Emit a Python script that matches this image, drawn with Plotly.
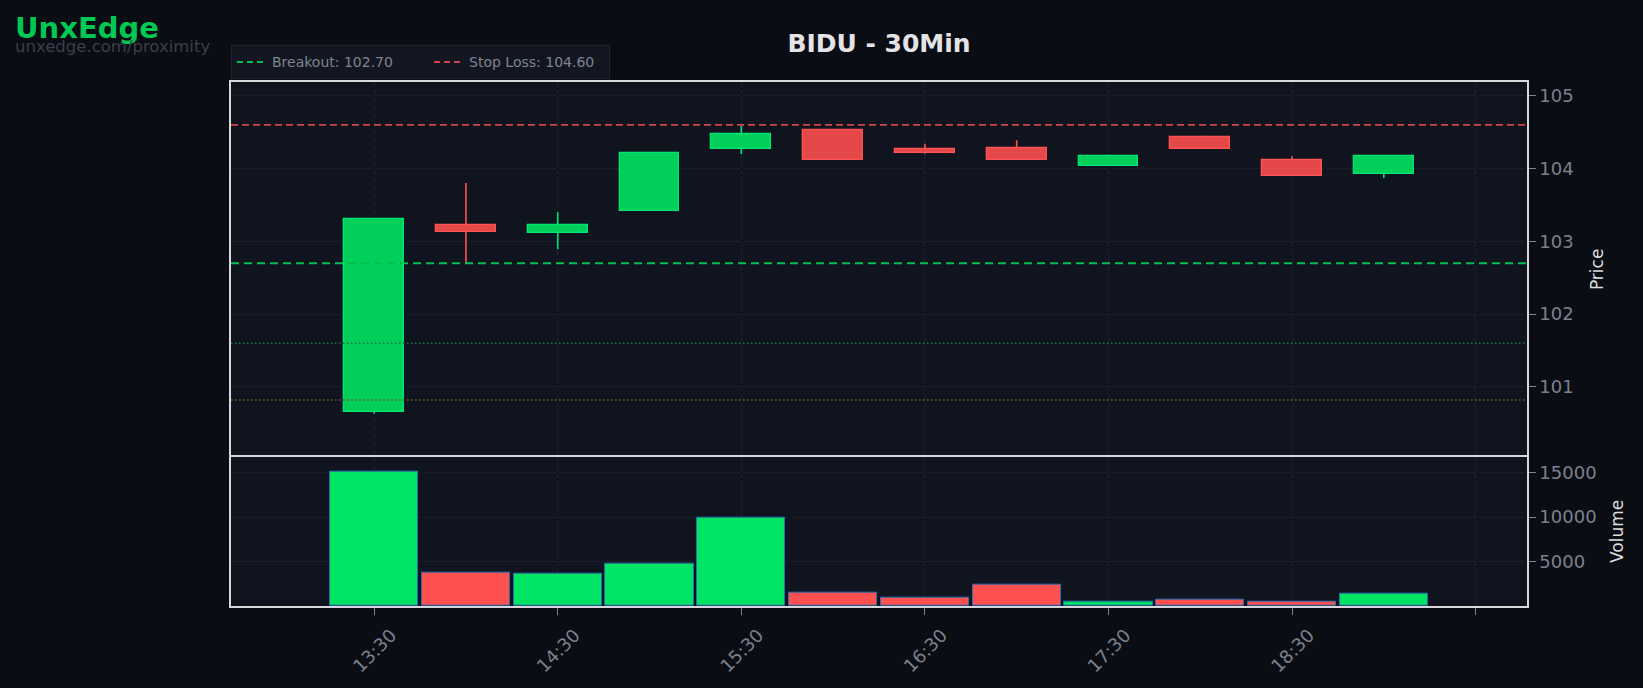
import plotly.graph_objects as go
from plotly.subplots import make_subplots

# ---------------- data ----------------
day = "2024-05-14"
times = ["13:30", "14:00", "14:30", "15:00", "15:30", "16:00",
         "16:30", "17:00", "17:30", "18:00", "18:30", "19:00"]
opens = [100.66, 103.22, 103.12, 103.42, 104.27, 104.53,
         104.27, 104.28, 104.03, 104.43, 104.12, 103.93]
highs = [103.32, 103.80, 103.40, 104.21, 104.59, 104.53,
         104.34, 104.39, 104.19, 104.45, 104.17, 104.17]
lows = [100.63, 102.70, 102.89, 103.42, 104.20, 104.12,
        104.20, 104.12, 104.03, 104.27, 103.90, 103.87]
closes = [103.31, 103.13, 103.23, 104.21, 104.47, 104.12,
          104.21, 104.12, 104.17, 104.27, 103.90, 104.17]
volumes = [15150, 3720, 3610, 4730, 9890, 1480,
           920, 2380, 540, 730, 470, 1370]

breakout = 102.70
stop_loss = 104.60
level_green = 101.60
level_yellow = 100.82

tick_times = ["13:30", "14:30", "15:30", "16:30", "17:30", "18:30", "19:30"]
tick_labels = ["13:30", "14:30", "15:30", "16:30", "17:30", "18:30", ""]
x_range = ["12:43:12", "19:46:48"]

title_text = "BIDU - 30Min"
brand = "UnxEdge"
brand_url = "unxedge.com/proximity"

# ---------------- styles ----------------
PAPER = "#0a0d14"
PLOT = "#10141f"
GRID = "#1d2130"
FRAME = "#d8d8dc"
TICKC = "#7c818e"
UP_FILL, UP_EDGE = "#00d05a", "#00e676"
DN_FILL, DN_EDGE = "#e54848", "#ff5252"
VOL_UP, VOL_DN = "#00e463", "#ff5050"
FONT = "DejaVu Sans"

xs = [f"{day} {t}" for t in times]
up = [c >= o for o, c in zip(opens, closes)]

fig = make_subplots(rows=2, cols=1, shared_xaxes=True, vertical_spacing=0,
                    row_heights=[0.715, 0.285])

# wicks (drawn only outside the bodies, since scatter layers sit above bars)
for is_up, col in [(True, UP_EDGE), (False, DN_EDGE)]:
    wx, wy = [], []
    for x, o, h, l, c, u in zip(xs, opens, highs, lows, closes, up):
        if u != is_up:
            continue
        top, bot = max(o, c), min(o, c)
        if h > top:
            wx += [x, x, None]
            wy += [top, h, None]
        if l < bot:
            wx += [x, x, None]
            wy += [l, bot, None]
    fig.add_trace(go.Scatter(x=wx, y=wy, mode="lines", showlegend=False,
                             line=dict(color=col, width=1.6), hoverinfo="skip"),
                  row=1, col=1)

# bodies
for is_up, fill, edge in [(True, UP_FILL, UP_EDGE), (False, DN_FILL, DN_EDGE)]:
    bx = [x for x, u in zip(xs, up) if u == is_up]
    bb = [min(o, c) for o, c, u in zip(opens, closes, up) if u == is_up]
    bh = [abs(c - o) for o, c, u in zip(opens, closes, up) if u == is_up]
    fig.add_trace(go.Bar(x=bx, y=bh, base=bb, width=19.5 * 60 * 1000,
                         marker=dict(color=fill, line=dict(color=edge, width=1.3)),
                         showlegend=False),
                  row=1, col=1)

# volume
fig.add_trace(go.Bar(x=xs, y=volumes, width=28.8 * 60 * 1000,
                     marker=dict(color=[VOL_UP if u else VOL_DN for u in up],
                                 line=dict(color="#2a6db0", width=1)),
                     showlegend=False),
              row=2, col=1)

# level lines
levels = [
    (breakout, "#00c04f", 2.0, "8px,5px"),
    (stop_loss, "#d4434a", 1.6, "7px,4px"),
    (level_green, "#1a6e45", 1.5, "1.5px,2.5px"),
    (level_yellow, "#6f6420", 1.5, "1.5px,2.5px"),
]
for yv, col, w, dash in levels:
    fig.add_shape(type="line", xref="x domain", yref="y", x0=0, x1=1, y0=yv, y1=yv,
                  line=dict(color=col, width=w, dash=dash), layer="above")

# legend entries
fig.add_trace(go.Scatter(x=[None], y=[None], mode="lines",
                         name=f"Breakout: {breakout:.2f}" + "&nbsp;" * 7,
                         line=dict(color="#00c04f", width=2, dash="6px,4px")), row=1, col=1)
fig.add_trace(go.Scatter(x=[None], y=[None], mode="lines",
                         name=f"Stop Loss: {stop_loss:.2f}" + "&nbsp;" * 2,
                         line=dict(color="#d4434a", width=2, dash="6px,4px")), row=1, col=1)

tickvals = [f"{day} {t}" for t in tick_times]
xr = [f"{day} {t}" for t in x_range]

common_x = dict(range=xr, showgrid=True, gridcolor=GRID, griddash="5px,3px", gridwidth=1,
                tickvals=tickvals, showline=True, linecolor=FRAME, linewidth=1.5,
                zeroline=False)
fig.update_xaxes(**common_x, side="top", mirror=False, ticks="", showticklabels=False,
                 row=1, col=1)
fig.update_xaxes(**common_x, mirror=True, ticktext=tick_labels, ticks="outside", ticklen=7,
                 tickcolor=TICKC, tickangle=-45, ticklabelshift=17, ticklabelstandoff=3,
                 tickfont=dict(family=FONT, size=18, color=TICKC), row=2, col=1)

common_y = dict(side="right", showgrid=True, gridcolor=GRID, griddash="5px,3px", gridwidth=1,
                showline=True, linecolor=FRAME, linewidth=1.5, mirror=True, zeroline=False,
                ticks="outside", ticklen=7, tickcolor=TICKC,
                tickfont=dict(family=FONT, size=18, color=TICKC))
fig.update_yaxes(**common_y, range=[100.04, 105.19], tickvals=[101, 102, 103, 104, 105],
                 title=dict(text="Price", standoff=18,
                            font=dict(family=FONT, size=17, color="#dcdcdc")),
                 row=1, col=1)
fig.update_yaxes(**common_y, range=[0, 16800], tickvals=[5000, 10000, 15000],
                 tickformat="d",
                 title=dict(text="Volume", standoff=15,
                            font=dict(family=FONT, size=17, color="#dcdcdc")),
                 row=2, col=1)

fig.add_annotation(xref="paper", yref="paper", x=-0.168, y=(606 - 28.5) / 524, xanchor="left",
                   yanchor="middle", text=f"<b>{brand}</b>", showarrow=False,
                   font=dict(family=FONT, size=29, color="#00c853"))
fig.add_annotation(xref="paper", yref="paper", x=-0.168, y=(606 - 46) / 524, xanchor="left",
                   yanchor="middle", text=brand_url, showarrow=False,
                   font=dict(family=FONT, size=16.5, color="#3a3f4c"))

fig.update_layout(
    width=1643, height=688,
    paper_bgcolor=PAPER, plot_bgcolor=PLOT,
    margin=dict(l=231, r=116, t=82, b=82),
    barmode="overlay", bargap=0,
    title=dict(text=f"<b>{title_text}</b>", x=0.5, xref="paper", y=1 - 43 / 688,
               yref="container", xanchor="center", yanchor="middle",
               font=dict(family=FONT, size=25, color="#e4e4e6")),
    legend=dict(orientation="h", x=0, y=1.005, xanchor="left", yanchor="bottom",
                bgcolor="#121621", bordercolor="#1f2430", borderwidth=1,
                font=dict(family=FONT, size=14, color="#7f8491"),
                itemwidth=30, tracegroupgap=0),
    font=dict(family=FONT),
    showlegend=True,
)

fig.write_html("out.html", config={"displayModeBar": False},
               post_script="document.body.style.margin='0';"
                           "document.body.style.background='#0a0d14';")
